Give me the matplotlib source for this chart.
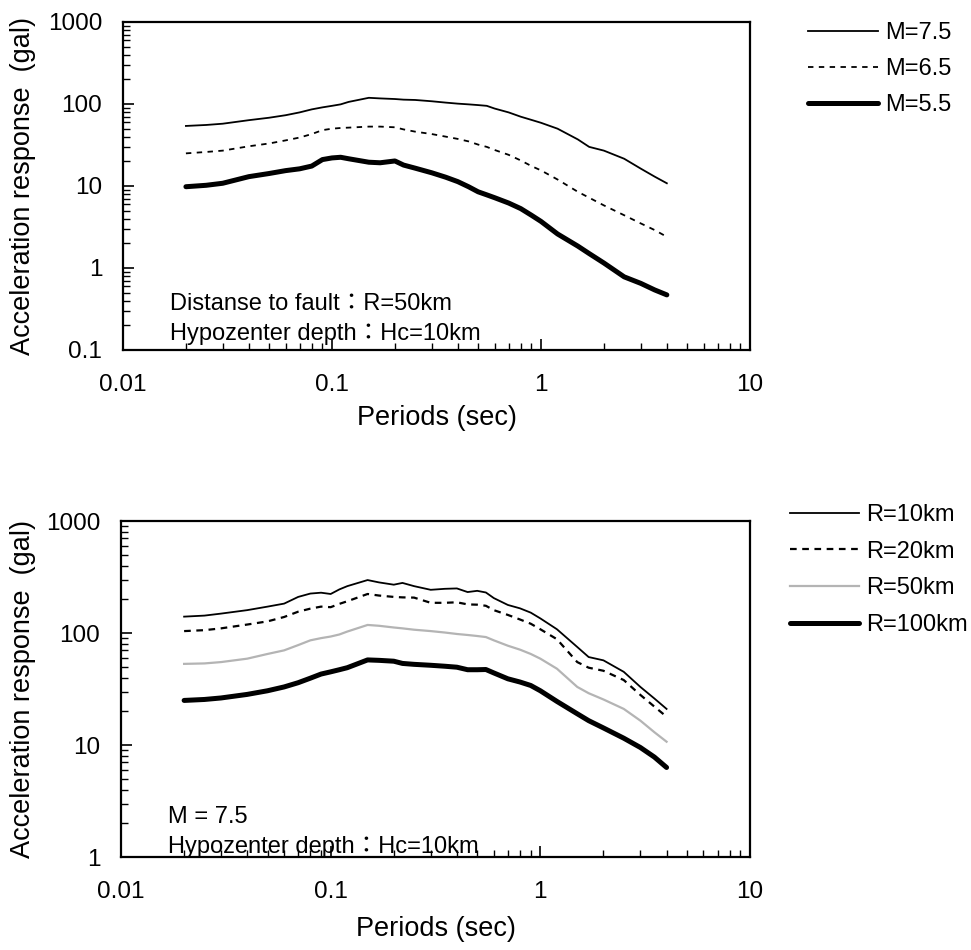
"""Acceleration response spectra: effect of magnitude (top) and fault distance (bottom)."""

import matplotlib

matplotlib.use("Agg")
import matplotlib.pyplot as plt
from matplotlib.ticker import FuncFormatter, LogLocator

# Periods (sec) shared by all spectra
periods = [0.02, 0.025, 0.03, 0.04, 0.05, 0.06, 0.07, 0.08, 0.09, 0.10,
           0.11, 0.12, 0.15, 0.17, 0.20, 0.22, 0.25, 0.30, 0.35, 0.40,
           0.45, 0.50, 0.55, 0.60, 0.70, 0.80, 0.90, 1.0, 1.2, 1.5,
           1.7, 2.0, 2.5, 3.0, 3.5, 4.0]

# R = 50 km, Hc = 10 km, varying magnitude (gal)
m75 = [54, 55.5, 57.5, 63.5, 68, 73, 79, 86, 91, 95,
       99, 106, 119, 117, 115, 113, 112, 108, 104, 101,
       99, 97, 95, 88, 79, 70, 64, 59, 50, 37,
       30, 27, 21.5, 16.3, 13, 10.8]
m65 = [25, 26, 27, 30.5, 33, 36, 39, 43, 48, 50,
       51, 51.5, 53, 53, 52, 49, 46, 43, 40, 37.5,
       35, 32, 30, 27.5, 24, 20.5, 17.5, 15.5, 12, 8.5,
       7.2, 5.8, 4.4, 3.5, 2.9, 2.4]
m55 = [9.8, 10.2, 10.8, 13, 14.2, 15.4, 16.2, 17.5, 21, 22,
       22.4, 21.5, 19.5, 19.2, 20.2, 18, 16.5, 14.5, 12.8, 11.3,
       9.8, 8.5, 7.8, 7.2, 6.2, 5.3, 4.4, 3.7, 2.6, 1.85,
       1.5, 1.15, 0.78, 0.65, 0.54, 0.47]

# M = 7.5, Hc = 10 km, varying distance (gal)
r10 = [140, 143, 149, 160, 172, 183, 210, 225, 229, 223,
       245, 262, 297, 283, 270, 280, 262, 243, 248, 250,
       232, 238, 230, 205, 178, 166, 152, 135, 108, 75,
       61, 57, 45, 33, 26, 21]
r20 = [104, 106, 110, 119, 127, 139, 155, 165, 172, 170,
       182, 192, 223, 216, 210, 208, 207, 186, 186, 188,
       180, 179, 175, 160, 145, 132, 121, 108, 88, 55,
       49, 46, 38, 28, 22, 17.9]
r50 = [53, 53.5, 55, 59, 65, 70, 78, 86, 90, 93,
       97, 103, 118, 116, 112, 110, 107, 104, 101, 98,
       96, 94, 92, 86, 77, 71, 65, 59, 48, 33,
       29, 25.5, 21, 16.5, 13, 10.7]
r100 = [25, 25.5, 26.3, 28.3, 30.5, 33, 36, 39.5, 43, 45,
        47, 49, 57.5, 57, 56, 53.5, 52.5, 51.5, 50.5, 49.5,
        47, 47, 47.2, 44, 39, 36.5, 34, 30.5, 24.5, 19,
        16.5, 14.2, 11.5, 9.5, 7.8, 6.3]

plt.rcParams["font.family"] = ["Liberation Sans", "Noto Sans CJK JP", "DejaVu Sans"]
plt.rcParams["font.size"] = 16

W, H = 971, 950
fig = plt.figure(figsize=(W / 100, H / 100), dpi=100)


def px_axes(left, top, right, bottom):
    return fig.add_axes([left / W, 1 - bottom / H, (right - left) / W, (bottom - top) / H])


def style_axes(ax, ymin, ymax):
    ax.set_xscale("log")
    ax.set_yscale("log")
    ax.set_xlim(0.01, 10)
    ax.set_ylim(ymin, ymax)
    for spine in ax.spines.values():
        spine.set_linewidth(1.6)
    ax.xaxis.set_minor_locator(LogLocator(base=10, subs=range(2, 10)))
    ax.yaxis.set_minor_locator(LogLocator(base=10, subs=range(2, 10)))
    ax.tick_params(which="both", direction="in", top=False, right=False, colors="black")
    ax.tick_params(which="major", length=8, width=1.2)
    ax.tick_params(which="minor", length=5, width=1.0)
    ax.tick_params(axis="x", which="major", pad=17, labelsize=17.5)
    ax.tick_params(axis="y", which="major", pad=15, labelsize=17.5)
    fmt = FuncFormatter(lambda v, _: f"{v:g}")
    ax.xaxis.set_major_formatter(fmt)
    ax.yaxis.set_major_formatter(fmt)
    ax.set_xlabel("Periods (sec)", fontsize=19.5)
    ax.set_ylabel("Acceleration response  (gal)", fontsize=19.5)


thin = dict(color="black", lw=1.3)
dashed = dict(color="black", lw=1.3, linestyle=(0, (3, 3)))
thick = dict(color="black", lw=3.6, solid_capstyle="round")
note = dict(fontsize=17, va="baseline")

# --- magnitude comparison ---
ax1 = px_axes(123, 22, 750, 350)
style_axes(ax1, 0.1, 1000)
ax1.plot(periods, m75, label="M=7.5", **thin)
ax1.plot(periods, m65, label="M=6.5", **dashed)
ax1.plot(periods, m55, label="M=5.5", **thick)
ax1.xaxis.set_label_coords(0.5, -0.168)
ax1.yaxis.set_label_coords(-0.139, 0.5)
ax1.text(0.075, 0.122, "Distanse to fault：R=50km", transform=ax1.transAxes, **note)
ax1.text(0.075, 0.030, "Hypozenter depth：Hc=10km", transform=ax1.transAxes, **note)
ax1.legend(loc="upper left", bbox_to_anchor=(808 / W, 1 - 22 / H), bbox_transform=fig.transFigure,
           frameon=False, borderpad=0, borderaxespad=0, handlelength=2.96,
           handletextpad=0.3, labelspacing=0.6, fontsize=17)

# --- distance comparison ---
ax2 = px_axes(121, 521, 750, 857)
style_axes(ax2, 1, 1000)
ax2.plot(periods, r10, label="R=10km", **thin)
ax2.plot(periods, r20, label="R=20km", color="black", lw=1.6, linestyle=(0, (3, 2.5)))
ax2.plot(periods, r50, label="R=50km", color="#b4b4b4", lw=1.6)
ax2.plot(periods, r100, label="R=100km", **thick)
ax2.xaxis.set_label_coords(0.5, -0.175)
ax2.yaxis.set_label_coords(-0.135, 0.5)
ax2.text(0.075, 0.100, "M = 7.5", transform=ax2.transAxes, **note)
ax2.text(0.075, 0.011, "Hypozenter depth：Hc=10km", transform=ax2.transAxes, **note)
ax2.legend(loc="upper left", bbox_to_anchor=(790 / W, 1 - 504 / H), bbox_transform=fig.transFigure,
           frameon=False, borderpad=0, borderaxespad=0, handlelength=2.92,
           handletextpad=0.3, labelspacing=0.62, fontsize=17)

fig.savefig("out.png", dpi=100)
